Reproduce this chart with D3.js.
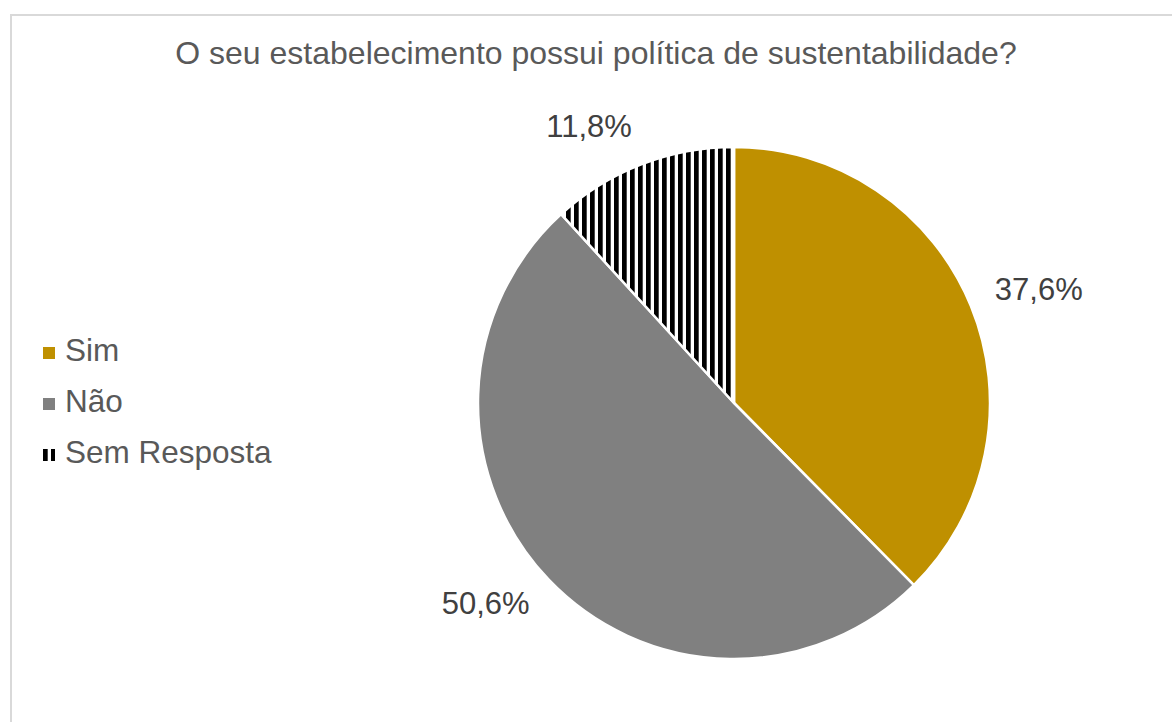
<!DOCTYPE html>
<html>
<head>
<meta charset="utf-8">
<script src="https://cdn.jsdelivr.net/npm/d3@7"></script>
<style>
  body { margin: 0; background: #fff; }
  svg { display: block; font-family: "Liberation Sans", Arial, sans-serif; }
</style>
</head>
<body>
<script>
// data
let categories = ['Sim', 'Não', 'Sem Resposta'];
let values = [37.6, 50.6, 11.8];
let labels = ['37,6%', '50,6%', '11,8%'];
let title = 'O seu estabelecimento possui política de sustentabilidade?';

let width = 1172;
let height = 722;
let cx = 734, cy = 403, radius = 256;

let svg = d3.select('body')
  .append('svg')
  .attr('width', width)
  .attr('height', height);

// stripes for "Sem Resposta"
let defs = svg.append('defs');
let pat = defs.append('pattern')
  .attr('id', 'stripes')
  .attr('patternUnits', 'userSpaceOnUse')
  .attr('width', 8)
  .attr('height', 8);
pat.append('rect').attr('width', 8).attr('height', 8).attr('fill', '#fff');
pat.append('rect').attr('width', 4.7).attr('height', 8).attr('fill', '#000');

let fills = ['#bf9000', '#808080', 'url(#stripes)'];

// chart border
svg.append('rect')
  .attr('x', 11)
  .attr('y', 15)
  .attr('width', width + 20)
  .attr('height', height + 20)
  .attr('fill', 'none')
  .attr('stroke', '#d9d9d9')
  .attr('stroke-width', 2);

svg.append('text')
  .attr('x', 596)
  .attr('y', 56)
  .attr('text-anchor', 'middle')
  .attr('dominant-baseline', 'middle')
  .attr('font-size', 32)
  .attr('fill', '#595959')
  .text(title);

let pie = d3.pie().sort(null).value(function (d) { return d; });
let arcs = pie(values);
let arc = d3.arc().innerRadius(0).outerRadius(radius);

let g = svg.append('g')
  .attr('transform', 'translate(' + cx + ',' + cy + ')');

g.selectAll('path')
  .data(arcs)
  .enter()
  .append('path')
  .attr('d', arc)
  .attr('fill', function (d, i) { return fills[i]; })
  .attr('stroke', '#fff')
  .attr('stroke-width', 2.5)
  .attr('stroke-linejoin', 'round');

// labels: outside, box edge at labelR
let labelR = 282;
let labelH = 24;
g.selectAll('text.lbl')
  .data(arcs)
  .enter()
  .append('text')
  .attr('class', 'lbl')
  .attr('x', function (d) {
    let a = (d.startAngle + d.endAngle) / 2;
    return labelR * Math.sin(a);
  })
  .attr('y', function (d) {
    let a = (d.startAngle + d.endAngle) / 2;
    return -labelR * Math.cos(a) - Math.cos(a) * labelH / 2;
  })
  .attr('text-anchor', function (d) {
    let a = (d.startAngle + d.endAngle) / 2;
    return Math.sin(a) >= 0 ? 'start' : 'end';
  })
  .attr('dominant-baseline', 'middle')
  .attr('font-size', 31)
  .attr('fill', '#404040')
  .text(function (d, i) { return labels[i]; });

// legend
let legend = svg.append('g')
  .attr('transform', 'translate(43,353)');

let item = legend.selectAll('g')
  .data(categories)
  .enter()
  .append('g')
  .attr('transform', function (d, i) { return 'translate(0,' + (i * 51) + ')'; });

item.append('rect')
  .attr('x', 0)
  .attr('y', -6)
  .attr('width', 12)
  .attr('height', 12)
  .attr('fill', function (d, i) { return fills[i]; });

item.append('text')
  .attr('x', 22)
  .attr('y', 0)
  .attr('dominant-baseline', 'middle')
  .attr('font-size', 31.5)
  .attr('fill', '#595959')
  .text(function (d) { return d; });
</script>
</body>
</html>
